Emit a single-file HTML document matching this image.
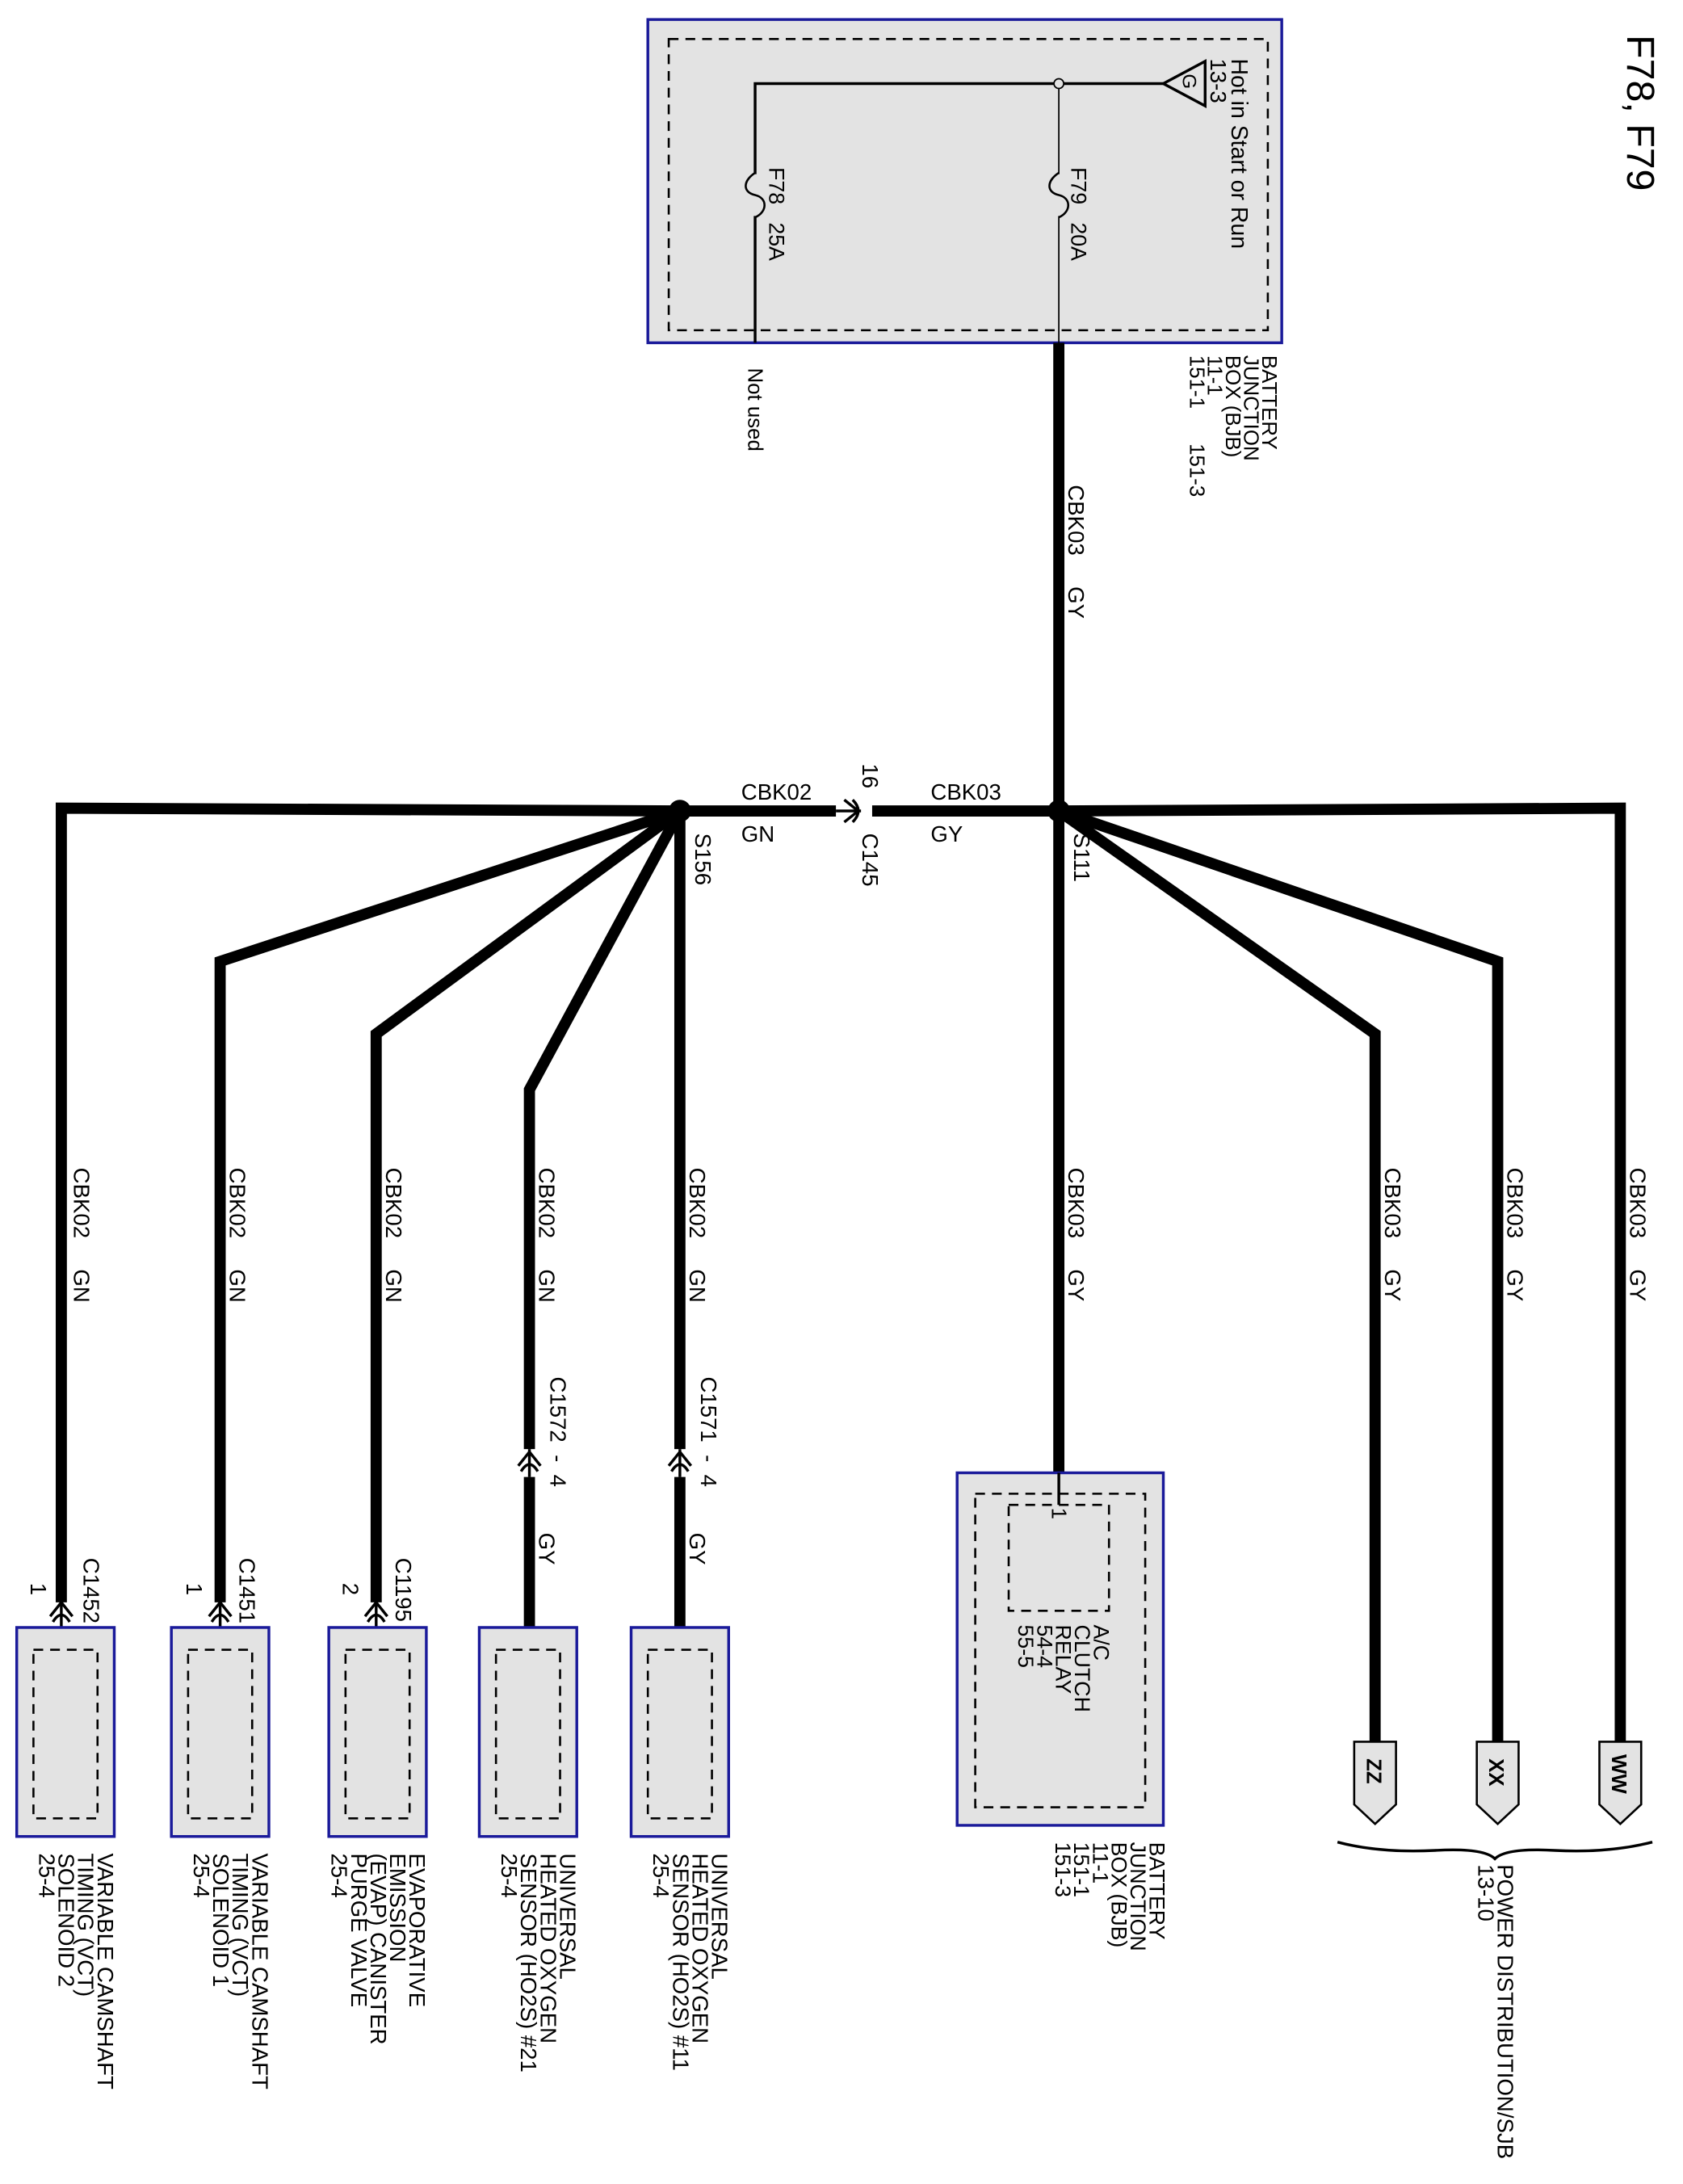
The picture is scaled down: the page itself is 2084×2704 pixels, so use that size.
<!DOCTYPE html>
<html><head><meta charset="utf-8"><style>
html,body{margin:0;padding:0;background:#fff}
svg{display:block}
text{font-family:"Liberation Sans",Arial,sans-serif;fill:#000;white-space:pre}
</style></head><body>
<svg width="2084" height="2704" viewBox="0 0 1208 1567.4" xmlns="http://www.w3.org/2000/svg" xml:space="preserve">
<rect x="0" y="0" width="1208" height="1568" fill="#fff"/>
<text transform="translate(1168 25) rotate(90)" font-size="28">F78, F79</text>

<rect x="465" y="14" width="455" height="232" fill="#e3e3e3" stroke="#1a1a9a" stroke-width="2"/>
<rect x="480" y="28" width="430" height="209" fill="none" stroke="#000" stroke-width="1.5" stroke-dasharray="7,5"/>
<polyline points="542,246 542,60 835,60" fill="none" stroke="#000" stroke-width="2"/>
<line x1="760" y1="60" x2="760" y2="246" stroke="#000" stroke-width="1"/>
<circle cx="760" cy="60" r="3.5" fill="#e3e3e3" stroke="#000" stroke-width="1"/>
<rect x="538" y="125" width="9" height="30" fill="#e3e3e3"/>
<path d="M542,124 C533,130 533,138 542,140 C551,142 551,152 542,156" fill="none" stroke="#000" stroke-width="1.5"/>
<rect x="756" y="125" width="9" height="30" fill="#e3e3e3"/>
<path d="M760,124 C751,130 751,138 760,140 C769,142 769,152 760,156" fill="none" stroke="#000" stroke-width="1.5"/>
<polygon points="835,60 865,44 865,76" fill="#e3e3e3" stroke="#000" stroke-width="2"/>
<text transform="translate(849 53) rotate(90)" font-size="14">G</text>
<text transform="translate(884 42) rotate(90)" font-size="16.5">Hot in Start or Run</text>
<text transform="translate(869 42) rotate(90)" font-size="16">13-3</text>
<text transform="translate(552 120) rotate(90)" font-size="15.5">F78   25A</text>
<text transform="translate(769 120) rotate(90)" font-size="15.5">F79   20A</text>

<text transform="translate(906 255) rotate(90)" font-size="15"><tspan x="0" dy="0">BATTERY</tspan><tspan x="0" dy="13">JUNCTION</tspan><tspan x="0" dy="13">BOX (BJB)</tspan><tspan x="0" dy="13">11-1</tspan><tspan x="0" dy="13">151-1      151-3</tspan></text>
<text transform="translate(537 264) rotate(90)" font-size="15">Not used</text>
<text transform="translate(767 348) rotate(90)" font-size="16">CBK03     GY</text>

<g fill="none" stroke="#000" stroke-width="8" stroke-linejoin="miter">
<line x1="760" y1="246" x2="760" y2="582"/>
<polyline points="488,582 44,580 44,1150"/>
<polyline points="488,582 158,690 158,1150"/>
<polyline points="488,582 270,742 270,1150"/>
<polyline points="488,582 380,782 380,1040"/>
<line x1="488" y1="582" x2="488" y2="1040"/>
<line x1="380" y1="1060" x2="380" y2="1168"/>
<line x1="488" y1="1060" x2="488" y2="1168"/>
<line x1="488" y1="582" x2="600" y2="582"/>
<line x1="626" y1="582" x2="760" y2="582"/>
<line x1="760" y1="582" x2="760" y2="1057"/>
<polyline points="760,582 987,742 987,1250"/>
<polyline points="760,582 1075,690 1075,1250"/>
<polyline points="760,582 1163,580 1163,1250"/>
</g>
<circle cx="488" cy="582" r="8" fill="#000"/>
<circle cx="760" cy="582" r="8" fill="#000"/>
<g fill="none" stroke="#000" stroke-width="2">
<line x1="600" y1="582" x2="618" y2="582"/>
<path d="M606,574 L616,582 L606,590"/>
<path d="M612,574 Q620,582 612,590"/>
</g>
<text x="532" y="574" font-size="16">CBK02</text>
<text x="532" y="604" font-size="16">GN</text>
<text x="668" y="574" font-size="16">CBK03</text>
<text x="668" y="604" font-size="16">GY</text>
<text transform="translate(619 548) rotate(90)" font-size="16">16</text>
<text transform="translate(619 598) rotate(90)" font-size="16">C145</text>
<text transform="translate(499 598) rotate(90)" font-size="16">S156</text>
<text transform="translate(771 598) rotate(90)" font-size="16">S111</text>

<g font-size="16">
<text transform="translate(53 838) rotate(90)">CBK02     GN</text>
<text transform="translate(165 838) rotate(90)">CBK02     GN</text>
<text transform="translate(277 838) rotate(90)">CBK02     GN</text>
<text transform="translate(387 838) rotate(90)">CBK02     GN</text>
<text transform="translate(495 838) rotate(90)">CBK02     GN</text>
<text transform="translate(767 838) rotate(90)">CBK03     GY</text>
<text transform="translate(994 838) rotate(90)">CBK03     GY</text>
<text transform="translate(1082 838) rotate(90)">CBK03     GY</text>
<text transform="translate(1170 838) rotate(90)">CBK03     GY</text>
<text transform="translate(395 988) rotate(90)">C1572  -  4</text>
<text transform="translate(503 988) rotate(90)">C1571  -  4</text>
<text transform="translate(387 1100) rotate(90)">GY</text>
<text transform="translate(495 1100) rotate(90)">GY</text>
<text transform="translate(60 1118) rotate(90)">C1452</text>
<text transform="translate(172 1118) rotate(90)">C1451</text>
<text transform="translate(284 1118) rotate(90)">C1195</text>
<text transform="translate(22 1136) rotate(90)">1</text>
<text transform="translate(134 1136) rotate(90)">1</text>
<text transform="translate(246 1136) rotate(90)">2</text>
</g>

<g fill="none" stroke="#000" stroke-width="2">
<path d="M372,1052 L380,1042 L388,1052 M374,1056 Q380,1046 386,1056"/><line x1="380" y1="1040" x2="380" y2="1060"/>
<path d="M480,1052 L488,1042 L496,1052 M482,1056 Q488,1046 494,1056"/><line x1="488" y1="1040" x2="488" y2="1060"/>
<path d="M36,1160 L44,1150 L52,1160 M38,1164 Q44,1154 50,1164"/><line x1="44" y1="1150" x2="44" y2="1184"/><line x1="44" y1="1184" x2="34" y2="1184"/>
<path d="M150,1160 L158,1150 L166,1160 M152,1164 Q158,1154 164,1164"/><line x1="158" y1="1150" x2="158" y2="1184"/><line x1="158" y1="1184" x2="148" y2="1184"/>
<path d="M262,1160 L270,1150 L278,1160 M264,1164 Q270,1154 276,1164"/><line x1="270" y1="1150" x2="270" y2="1184"/><line x1="270" y1="1184" x2="260" y2="1184"/>
<line x1="380" y1="1168" x2="380" y2="1184"/>
<line x1="488" y1="1168" x2="488" y2="1184"/>
</g>

<g stroke="#1a1a9a" stroke-width="2" fill="#e3e3e3">
<rect x="12" y="1168" width="70" height="150"/>
<rect x="123" y="1168" width="70" height="150"/>
<rect x="236" y="1168" width="70" height="150"/>
<rect x="344" y="1168" width="70" height="150"/>
<rect x="453" y="1168" width="70" height="150"/>
<rect x="687" y="1057" width="148" height="253"/>
</g>
<g fill="none" stroke="#000" stroke-width="1.5" stroke-dasharray="7,5">
<rect x="24" y="1184" width="46" height="121"/>
<rect x="135" y="1184" width="46" height="121"/>
<rect x="248" y="1184" width="46" height="121"/>
<rect x="356" y="1184" width="46" height="121"/>
<rect x="465" y="1184" width="46" height="121"/>
<rect x="700" y="1072" width="122" height="225"/>
<rect x="724" y="1080" width="72" height="76"/>
</g>
<line x1="760" y1="1057" x2="760" y2="1080" stroke="#000" stroke-width="2"/>
<text transform="translate(755 1082) rotate(90)" font-size="15">1</text>
<text transform="translate(785 1166) rotate(90)" font-size="15.5"><tspan x="0" dy="0">A/C</tspan><tspan x="0" dy="13.5">CLUTCH</tspan><tspan x="0" dy="13.5">RELAY</tspan><tspan x="0" dy="13.5">54-4</tspan><tspan x="0" dy="13.5">55-5</tspan></text>
<text transform="translate(825 1322) rotate(90)" font-size="15.5"><tspan x="0" dy="0">BATTERY</tspan><tspan x="0" dy="13.5">JUNCTION</tspan><tspan x="0" dy="13.5">BOX (BJB)</tspan><tspan x="0" dy="13.5">11-1</tspan><tspan x="0" dy="13.5">151-1</tspan><tspan x="0" dy="13.5">151-3</tspan></text>

<g font-size="16">
<text transform="translate(70 1330) rotate(90)"><tspan x="0" dy="0">VARIABLE CAMSHAFT</tspan><tspan x="0" dy="14">TIMING (VCT)</tspan><tspan x="0" dy="14">SOLENOID 2</tspan><tspan x="0" dy="14">25-4</tspan></text>
<text transform="translate(181 1330) rotate(90)"><tspan x="0" dy="0">VARIABLE CAMSHAFT</tspan><tspan x="0" dy="14">TIMING (VCT)</tspan><tspan x="0" dy="14">SOLENOID 1</tspan><tspan x="0" dy="14">25-4</tspan></text>
<text transform="translate(294 1330) rotate(90)"><tspan x="0" dy="0">EVAPORATIVE</tspan><tspan x="0" dy="14">EMISSION</tspan><tspan x="0" dy="14">(EVAP) CANISTER</tspan><tspan x="0" dy="14">PURGE VALVE</tspan><tspan x="0" dy="14">25-4</tspan></text>
<text transform="translate(402 1330) rotate(90)"><tspan x="0" dy="0">UNIVERSAL</tspan><tspan x="0" dy="14">HEATED OXYGEN</tspan><tspan x="0" dy="14">SENSOR (HO2S) #21</tspan><tspan x="0" dy="14">25-4</tspan></text>
<text transform="translate(511 1330) rotate(90)"><tspan x="0" dy="0">UNIVERSAL</tspan><tspan x="0" dy="14">HEATED OXYGEN</tspan><tspan x="0" dy="14">SENSOR (HO2S) #11</tspan><tspan x="0" dy="14">25-4</tspan></text>
</g>

<g fill="#e3e3e3" stroke="#000" stroke-width="1.5">
<polygon points="972,1250 1002,1250 1002,1295 987,1309 972,1295"/>
<polygon points="1060,1250 1090,1250 1090,1295 1075,1309 1060,1295"/>
<polygon points="1148,1250 1178,1250 1178,1295 1163,1309 1148,1295"/>
</g>
<g font-size="15" font-weight="bold">
<text transform="translate(981 1262) rotate(90)">ZZ</text>
<text transform="translate(1069 1262) rotate(90)">XX</text>
<text transform="translate(1157 1259) rotate(90)">WW</text>
</g>
<path d="M960,1322 Q990,1330 1030,1328 Q1065,1326 1073,1334 Q1081,1326 1116,1328 Q1155,1330 1186,1322" fill="none" stroke="#000" stroke-width="2"/>
<text transform="translate(1075 1338) rotate(90)" font-size="16"><tspan x="0" dy="0">POWER DISTRIBUTION/SJB</tspan><tspan x="0" dy="14">13-10</tspan></text>
</svg>
</body></html>
